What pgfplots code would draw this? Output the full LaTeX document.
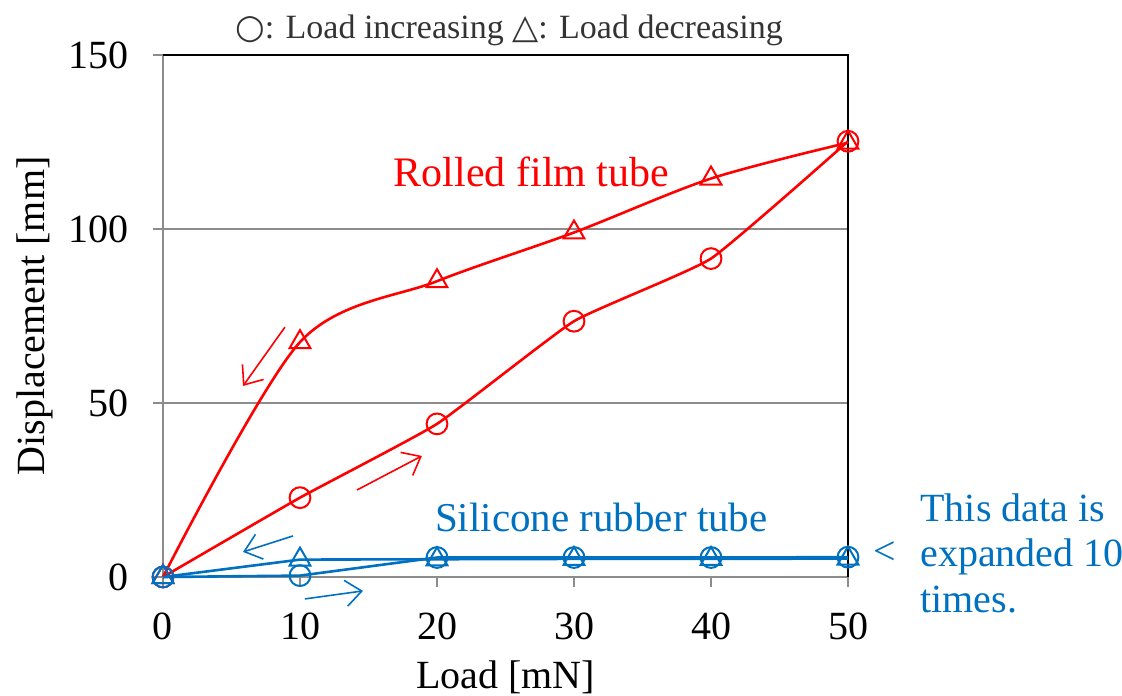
\documentclass[border=0pt]{standalone}
\usepackage{fontspec}
\setmainfont{Liberation Serif}
\newfontfamily\dejavu{DejaVu Sans}
\usepackage{pgfplots}
\pgfplotsset{compat=1.18}
\usetikzlibrary{arrows.meta}
\definecolor{cred}{HTML}{FF0000}
\definecolor{cblue}{HTML}{0070C0}
\definecolor{axgray}{HTML}{8C8C8C}
\begin{document}
\begin{tikzpicture}
\begin{axis}[
  scale only axis, width=342.5pt, height=261pt,
  xmin=0, xmax=50, ymin=0, ymax=150,
  xtick={0,10,20,30,40,50}, ytick={0,50,100,150},
  xtick pos=bottom, ytick pos=left,
  tick align=outside, major tick length=5pt,
  tick style={axgray, line width=1pt},
  axis line style={draw=none},
  ymajorgrids, grid style={axgray, line width=0.8pt},
  clip=false,
  font=\fontsize{20}{24}\selectfont,
  /pgf/number format/assume math mode=true,
  xticklabel style={anchor=center, inner sep=0pt, yshift=-19.5pt},
  yticklabel style={anchor=east, inner sep=0pt, xshift=-12pt},
  xlabel={Load [mN]}, ylabel={Displacement [mm]},
  xlabel style={at={(axis description cs:0.5,-0.192)}, anchor=center},
  ylabel style={at={(axis description cs:-0.1869,0.5)}, anchor=center},
]
\coordinate (sw) at (rel axis cs:0,0);
\coordinate (ne) at (rel axis cs:1,1);
\draw[axgray, line width=1.3pt] (rel axis cs:0,1) -- (rel axis cs:0,0) -- (rel axis cs:1,0);
\draw[black, line width=1pt] (rel axis cs:0,1) -- (rel axis cs:1,1) -- (rel axis cs:1,0);

% Rolled film tube
\addplot[cred, line width=1.3pt, smooth, tension=0.25, mark=o, mark size=5.2pt,
  mark options={solid, fill=white, line width=1pt}] coordinates {
  (0,0) (10,22.8) (20,44) (30,73.5) (40,91.5) (50,125.2)};
\addplot[cred, line width=1.3pt, smooth, tension=0.5, mark=triangle, mark size=6pt,
  mark options={solid, fill=white, line width=1pt}] coordinates {
  (50,124.8) (40,114.5) (30,99) (20,85) (10,67.5) (0,0)};
% Silicone rubber tube (x10)
\addplot[cblue, line width=1.3pt, mark=o, mark size=5.2pt,
  mark options={solid, fill=white, line width=1pt}] coordinates {
  (0,0) (10,0.4) (20,5.6) (30,5.6) (40,5.6) (50,5.7)};
\addplot[cblue, line width=1.3pt, mark=triangle, mark size=6pt,
  mark options={solid, fill=white, line width=1pt}] coordinates {
  (50,5.3) (40,5.2) (30,5.2) (20,5.1) (10,5) (0,0)};

% arrows
\draw[cred, line width=0.8pt, -{Straight Barb[length=8pt,width=13pt]}] (axis cs:8.9,71.8) -- (axis cs:5.84,54.9);
\draw[cred, line width=0.8pt, -{Straight Barb[length=8pt,width=13pt]}] (axis cs:14.16,25) -- (axis cs:18.9,34.8);
\draw[cblue, line width=0.8pt, -{Straight Barb[length=8pt,width=13pt]}] (axis cs:9.49,11.8) -- (axis cs:5.84,7.2);
\draw[cblue, line width=0.8pt, -{Straight Barb[length=8pt,width=13pt]}] (axis cs:10.36,-6.3) -- (axis cs:14.6,-4.0);

% texts
\node[cred, font=\fontsize{21}{25}\selectfont] at (axis cs:26.9,116.4) {Rolled film tube};
\node[cblue, font=\fontsize{20.5}{24}\selectfont] at (axis cs:32.0,17) {Silicone rubber tube};
\node[cblue, font=\fontsize{20}{24}\selectfont] at (axis cs:52.7,6.9) {<};
\node[cblue, font=\fontsize{20}{22.75}\selectfont, anchor=west, align=left, inner sep=0pt] at (axis cs:55.26,6.9) {This data is\\expanded 10\\times.};
\node[black!80, font=\fontsize{17}{20}\selectfont, inner sep=0pt] at (axis cs:25.26,157.2) {{\dejavu ○}: Load increasing {\dejavu △}: Load decreasing};
\end{axis}
\pgfresetboundingbox
\useasboundingbox ([shift={(-81.5pt,-59pt)}]sw) rectangle ([shift={(137pt,27.5pt)}]ne);
\end{tikzpicture}
\end{document}
